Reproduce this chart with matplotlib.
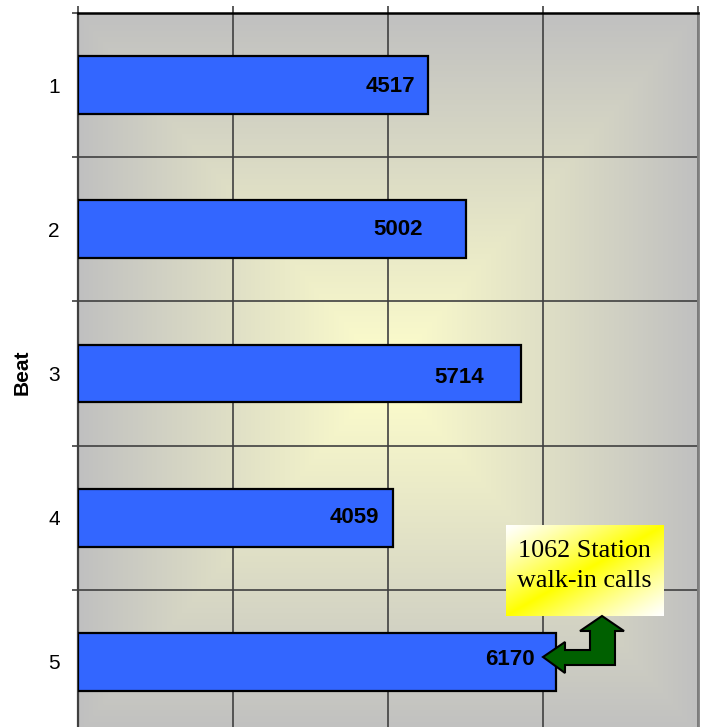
import numpy as np
import matplotlib
matplotlib.use("Agg")
import matplotlib.pyplot as plt
from matplotlib.patches import Polygon
from matplotlib.colors import to_rgb

# ---- data ----
beats = ["1", "2", "3", "4", "5"]
calls = [4517, 5002, 5714, 4059, 6170]
x_ticks = [0, 2000, 4000, 6000, 8000]
y_label = "Beat"
note_text = "1062 Station\nwalk-in calls"

# ---- layout / style (pixels at 100 dpi) ----
label_dx_px = [-38, -68, -62, -38, -46]
label_dy_px = [-1, 0, -4, 0, 2]

W, H = 707, 727
DPI = 100
fig = plt.figure(figsize=(W / DPI, H / DPI), dpi=DPI)
fig.patch.set_facecolor("white")

def fx(px):
    return px / W

def fy(py):
    return 1 - py / H

left, right, top, bottom = 78, 698, 13, 734
ax = fig.add_axes([fx(left), fy(bottom), fx(right) - fx(left), fy(top) - fy(bottom)])

# background rectangular "from center" gradient
n = 400
u = np.linspace(-1, 1, n)
X, Y = np.meshgrid(u, u)
t = np.maximum(np.abs(X), np.abs(Y))
c0 = np.array(to_rgb("#FFFFCC"))
c1 = np.array(to_rgb("#C0C0C0"))
img = c0[None, None, :] * (1 - t[..., None]) + c1[None, None, :] * t[..., None]
ax.imshow(img, extent=(0, 1, 0, 1), transform=ax.transAxes, aspect="auto",
          zorder=0, interpolation="bilinear")

ypos = np.arange(len(beats))
ax.barh(ypos, calls, height=0.4, color="#3366FF", edgecolor="black",
        linewidth=1.6, zorder=3)

for i, v in enumerate(calls):
    ax.annotate(str(v), xy=(v, ypos[i]), xytext=(label_dx_px[i] * 0.72, label_dy_px[i] * 0.72),
                textcoords="offset points", ha="center", va="center",
                fontsize=16, fontweight="bold", family="Liberation Sans",
                color="black", zorder=5)

ax.set_xlim(x_ticks[0], x_ticks[-1])
ax.set_ylim(len(beats) - 0.5, -0.5)

# x axis: ticks on top, no labels
ax.xaxis.tick_top()
ax.set_xticks(x_ticks)
ax.set_xticklabels([])
ax.tick_params(axis="x", which="major", direction="out", length=5, width=1.2,
               color="#404040", top=True, bottom=False)

# y axis: labels at centers, ticks at boundaries
ax.set_yticks(ypos)
ax.set_yticklabels(beats, fontsize=15, family="Liberation Sans")
ax.tick_params(axis="y", which="major", length=0, pad=13)
ax.set_yticks(np.arange(-0.5, len(beats) + 0.5, 1.0), minor=True)
ax.tick_params(axis="y", which="minor", direction="out", length=4.5, width=1.2,
               color="#404040")

ax.grid(True, axis="x", which="major", color="#404040", linewidth=1.2, zorder=1)
ax.grid(True, axis="y", which="minor", color="#404040", linewidth=1.2, zorder=1)
ax.set_axisbelow(True)

ax.spines["top"].set_color("black")
ax.spines["top"].set_linewidth(1.8)
ax.spines["left"].set_color("#404040")
ax.spines["left"].set_linewidth(1.6)
ax.spines["right"].set_color("#808080")
ax.spines["right"].set_linewidth(2.0)
ax.spines["bottom"].set_visible(False)

fig.text(fx(22), fy(372), y_label, rotation=90, ha="center", va="center",
         fontsize=15, fontweight="bold", family="Liberation Sans")

# annotation box with diagonal gradient
bx0, by0, bx1, by1 = 506, 525, 663, 616
bax = fig.add_axes([fx(bx0), fy(by1), fx(bx1) - fx(bx0), fy(by0) - fy(by1)])
bax.set_axis_off()
uu = np.linspace(0, 1, 200)
vv = np.linspace(0, 1, 120)
U, V = np.meshgrid(uu, vv)
s = U + V
yel = 1 - np.abs(s - 1)
yel = np.clip(yel, 0, 1) ** 1.2
white = np.array([1.0, 1.0, 1.0])
yellow = np.array([1.0, 1.0, 0.0])
bimg = white[None, None, :] * (1 - yel[..., None]) + yellow[None, None, :] * yel[..., None]
bax.imshow(bimg, extent=(0, 1, 0, 1), aspect="auto", origin="upper", interpolation="bilinear")
bax.set_xlim(0, 1)
bax.set_ylim(0, 1)
bax.text(0.5, 0.55, note_text, ha="center", va="center", fontsize=18.8,
         family="Liberation Serif", color="black", linespacing=1.45)

# bent green arrow
pts = [(543, 657), (565, 642), (565, 650), (590, 650), (590, 631), (580, 631),
       (602, 616), (624, 631), (615, 631), (615, 665), (565, 665), (565, 673)]
arrow = Polygon([(fx(x), fy(y)) for x, y in pts], closed=True,
                transform=fig.transFigure, facecolor="#006000", edgecolor="black",
                linewidth=1.5, zorder=10)
fig.patches.append(arrow)

fig.savefig("out.png", dpi=DPI)
